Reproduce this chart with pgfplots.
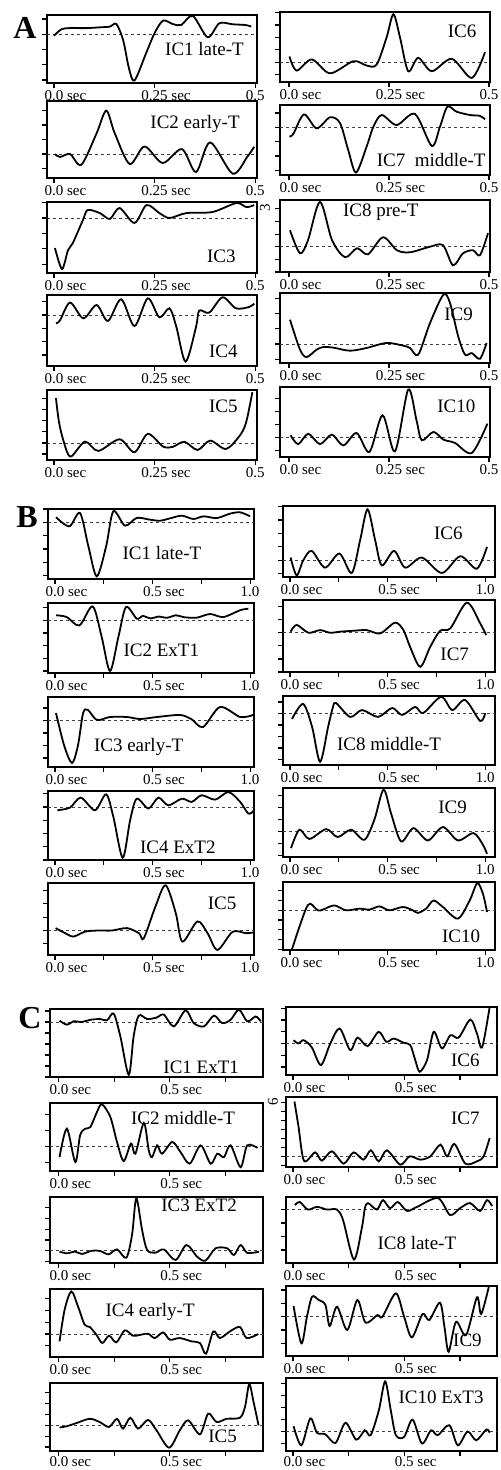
\documentclass[border=0pt]{standalone}
\usepackage{fontspec}
\setmainfont{Liberation Serif}
\usepackage{pgfplots}
\pgfplotsset{compat=1.18}

\pgfplotsset{
  ic/.style={scale only axis, anchor=north west, clip mode=individual,
    axis line style={line width=0.8pt}, tick align=outside,
    xtick pos=bottom, ytick pos=left, major tick length=2.5pt,
    tick style={black, line width=0.6pt},
    ytick distance=1, yticklabels={},
    extra y ticks={0}, extra y tick labels={},
    extra y tick style={grid=major},
    major grid style={dash pattern=on 1.5pt off 1.5pt, line width=0.4pt, black!75},
    xticklabel style={font=\fontsize{7.5}{8}\selectfont, inner sep=1pt}},
  colA/.style={ic, width=105pt, xmin=-0.0173, xmax=0.5045,
    xtick={0,0.25,0.5}, xticklabels={0.0\rlap{~sec},0.25\rlap{~sec},0.5}},
  colAr/.style={ic, width=105pt, xmin=-0.0225, xmax=0.5025,
    xtick={0,0.25,0.5}, xticklabels={0.0\rlap{~sec},0.25\rlap{~sec},0.5}},
  colB/.style={ic, width=103pt, xmin=-0.036, xmax=1.02,
    xtick={0,0.25,0.5,0.75,1}, xticklabels={0.0\rlap{~sec},,0.5\rlap{~sec},,1.0}},
  colBr/.style={ic, width=106pt, xmin=-0.036, xmax=1.05,
    xtick={0,0.25,0.5,0.75,1}, xticklabels={0.0\rlap{~sec},,0.5\rlap{~sec},,1.0}},
  colC/.style={ic, width=106.5pt, xmin=-0.04, xmax=0.92,
    xtick={0,0.25,0.5,0.75}, xticklabels={0.0\rlap{~sec},,0.5\rlap{~sec},}},
  colCr/.style={ic, width=105.5pt, xmin=-0.031, xmax=0.916,
    xtick={0,0.25,0.5,0.75}, xticklabels={0.0\rlap{~sec},,0.5\rlap{~sec},}},
  lastrow/.style={xticklabel style={yshift=0.8pt}},
  curve/.style={black, line width=0.9pt, smooth, mark=none},
}
\tikzset{lab/.style={font=\fontsize{9.5}{10}\selectfont, inner sep=0pt},
  panelletter/.style={font=\fontsize{16}{16}\selectfont\bfseries, inner sep=0pt}}

\begin{document}
\begin{tikzpicture}
\useasboundingbox (0,0) rectangle (250pt,-735pt);

% ---------------- A ----------------
\node[panelletter] at (12.5pt,-14pt) {A};

\begin{axis}[colA, at={(23.5pt,-7.5pt)}, height=34pt, ymin=-3.2, ymax=1.26]
\addplot[curve] coordinates {(0,-0.1) (0.019,0.33) (0.04,0.4) (0.081,0.4) (0.114,0.45) (0.139,0.5) (0.155,0.67) (0.172,-0.4) (0.186,-2.2) (0.2,-3.04) (0.229,-1.24) (0.25,0.07) (0.271,0.89) (0.295,0.67) (0.316,0.6) (0.345,1.2) (0.382,-0.2) (0.411,0.72) (0.444,0.65) (0.477,0.6) (0.49,0.5)};
\node[lab] at (rel axis cs:0.75,0.5) {IC1 late-T};
\end{axis}

\begin{axis}[colA, at={(23.5pt,-50.5pt)}, height=38.5pt, ymin=-1.64, ymax=3.64]
\addplot[curve] coordinates {(0.0025,0) (0.015,-0.2) (0.04,0) (0.068,-0.73) (0.106,1.43) (0.13,2.98) (0.151,1.43) (0.188,-0.68) (0.225,0.52) (0.27,-0.61) (0.318,0.34) (0.353,-1.23) (0.388,0.8) (0.444,-1.34) (0.48,-0.2) (0.4975,0.5)};
\node[lab] at (rel axis cs:0.705,0.70) {IC2 early-T};
\end{axis}

\begin{axis}[colA, at={(23.5pt,-101pt)}, height=35.5pt, ymin=-3.57, ymax=1.04]
\addplot[curve] coordinates {(0.0025,-1.95) (0.02,-3.31) (0.035,-2.08) (0.047,-1.62) (0.072,-0.13) (0.084,0.52) (0.114,0.32) (0.139,-0.06) (0.163,0.65) (0.2,-0.32) (0.23,0.84) (0.262,0.32) (0.287,0) (0.329,0.32) (0.394,0.39) (0.453,0.97) (0.478,0.71) (0.4975,0.84)};
\node[lab] at (rel axis cs:0.83,0.23) {IC3};
\end{axis}

\begin{axis}[colA, at={(23.5pt,-147.5pt)}, height=35.5pt, ymin=-3.83, ymax=1.5]
\addplot[curve] coordinates {(0.005,-0.63) (0.015,-0.4) (0.04,0.93) (0.073,-0.25) (0.106,0.75) (0.134,-0.45) (0.167,1.18) (0.2,-0.83) (0.233,1.25) (0.262,-0.18) (0.287,0.5) (0.304,-0.88) (0.327,-3.5) (0.353,-0.9) (0.361,0.33) (0.386,0.18) (0.419,1.33) (0.452,0.5) (0.485,0.6) (0.4975,0.85)};
\node[lab] at (rel axis cs:0.84,0.21) {IC4};
\end{axis}

\begin{axis}[colA, at={(23.5pt,-195pt)}, height=35pt, ymin=-1.55, ymax=4.8]
\addplot[curve] coordinates {(0.005,4.06) (0.012,2.0) (0.023,0.27) (0.041,-1.24) (0.077,0.12) (0.11,-0.73) (0.163,0.33) (0.2,-0.85) (0.233,0.82) (0.271,-0.33) (0.295,-0.36) (0.324,0.1) (0.357,-0.64) (0.388,0.21) (0.427,-0.55) (0.46,0.58) (0.477,1.8) (0.493,4.6)};
\node[lab] at (rel axis cs:0.84,0.76) {IC5};
\end{axis}

\begin{axis}[colAr, at={(140pt,-6pt)}, height=35pt, ymin=-1.6, ymax=4.05]
\addplot[curve] coordinates {(0.001,0.46) (0.019,-0.68) (0.057,0.22) (0.1025,-0.9) (0.161,0.08) (0.194,-0.27) (0.219,-0.2) (0.244,2.0) (0.261,3.86) (0.2775,2.0) (0.298,-0.73) (0.323,0.35) (0.357,-0.73) (0.407,0.27) (0.457,-1.27) (0.49,0.81)};
\node[lab] at (rel axis cs:0.867,0.73) {IC6};
\end{axis}

\begin{axis}[colAr, at={(140pt,-52.5pt)}, height=35pt, ymin=-3.33, ymax=1.56]
\addplot[curve] coordinates {(0.001,-0.65) (0.011,-0.45) (0.0375,0.9) (0.069,-0.07) (0.1025,0.7) (0.1275,0.3) (0.148,-1.58) (0.1675,-3.16) (0.194,-1.35) (0.211,0.05) (0.232,0.86) (0.269,0.16) (0.315,0.93) (0.357,-1.3) (0.3775,0.05) (0.396,1.44) (0.419,1.09) (0.4525,0.86) (0.4775,0.8) (0.49,0.56)};
\node[lab] at (rel axis cs:0.72,0.21) {IC7\ \ middle-T};
\end{axis}

\node[font=\fontsize{7.5}{8}\selectfont, rotate=90] at (132.5pt,-104pt) {3};

\begin{axis}[colAr, at={(140pt,-100pt)}, height=36pt, ymin=-2.0, ymax=3.7]
\addplot[curve] coordinates {(0.0025,1.3) (0.0275,-0.52) (0.0475,0.52) (0.0775,3.55) (0.1075,0.52) (0.14,-0.83) (0.17,-0.12) (0.1975,-0.6) (0.235,0.75) (0.27,-0.28) (0.3025,-0.44) (0.3525,0) (0.385,0.12) (0.41,-1.47) (0.435,-0.52) (0.46,-0.28) (0.4775,-0.67) (0.4975,1.07)};
\node[lab] at (rel axis cs:0.48,0.83) {IC8 pre-T};
\end{axis}

\begin{axis}[colAr, at={(140pt,-146.5pt)}, height=35pt, ymin=-1.25, ymax=3.36]
\addplot[curve] coordinates {(0.0025,1.6) (0.0275,-0.37) (0.044,-0.86) (0.069,-0.37) (0.086,-0.2) (0.111,-0.24) (0.1525,-0.44) (0.194,-0.26) (0.244,0.07) (0.286,-0.11) (0.3025,-0.26) (0.323,-0.7) (0.3525,1.38) (0.386,3.25) (0.4025,2.7) (0.423,0.5) (0.44,-0.7) (0.457,-0.6) (0.4775,-0.97) (0.494,0.07)};
\node[lab] at (rel axis cs:0.85,0.70) {IC9};
\end{axis}

\begin{axis}[colAr, at={(140pt,-193.5pt)}, height=35pt, ymin=-1.49, ymax=3.9]
\addplot[curve] coordinates {(0.004,0.18) (0.023,-0.5) (0.048,0.3) (0.0775,-0.5) (0.107,0.23) (0.136,-0.6) (0.169,0.36) (0.201,-1.1) (0.234,1.72) (0.265,-1.05) (0.298,3.7) (0.319,1.3) (0.332,-0.2) (0.361,0.44) (0.386,-0.15) (0.415,-0.41) (0.457,-1.18) (0.496,1.08)};
\node[lab] at (rel axis cs:0.84,0.73) {IC10};
\end{axis}

% ---------------- B ----------------
\node[panelletter] at (13.5pt,-258.5pt) {B};

\begin{axis}[colB, at={(24pt,-254.5pt)}, height=35pt, ymin=-4.25, ymax=1.0]
\addplot[curve] coordinates {(0.005,0.38) (0.0735,-0.3) (0.128,0.7) (0.171,-1.8) (0.214,-4.05) (0.262,-1.8) (0.299,0.83) (0.359,-0.25) (0.419,0.33) (0.487,0.2) (0.538,0.12) (0.59,0.3) (0.65,0.5) (0.709,0.25) (0.761,0.45) (0.829,0.32) (0.897,0.65) (0.949,0.75) (1.0,0.45)};
\node[lab] at (rel axis cs:0.553,0.37) {IC1 late-T};
\end{axis}

\begin{axis}[colB, at={(24pt,-301.5pt)}, height=35pt, ymin=-4.16, ymax=1.37]
\addplot[curve] coordinates {(0.005,0.4) (0.06,0.26) (0.125,-0.4) (0.193,1.1) (0.239,-1.3) (0.282,-4.0) (0.325,-1.3) (0.364,1.05) (0.419,0.13) (0.45,0.35) (0.49,0.15) (0.53,0.3) (0.573,0.2) (0.62,0.4) (0.66,0.25) (0.726,0.21) (0.795,0.5) (0.863,0.26) (0.949,0.8) (0.991,0.92)};
\node[lab] at (rel axis cs:0.55,0.33) {IC2 ExT1};
\end{axis}

\begin{axis}[colB, at={(24pt,-348.5pt)}, height=35pt, ymin=-3.72, ymax=1.88]
\addplot[curve] coordinates {(0.005,0.6) (0.046,-1.96) (0.087,-3.4) (0.118,-1.96) (0.144,0.6) (0.169,0.84) (0.215,0.04) (0.282,0.28) (0.369,0.28) (0.436,0.12) (0.523,0.28) (0.641,0.44) (0.7,0.1) (0.759,-0.52) (0.846,1.08) (0.949,0.28) (1.015,0.44)};
\node[lab] at (rel axis cs:0.44,0.29) {IC3 early-T};
\end{axis}

\begin{axis}[colB, at={(24pt,-395.5pt)}, height=34.5pt, ymin=-4.0, ymax=1.2]
\addplot[curve] coordinates {(0.012,-0.25) (0.077,-0.05) (0.132,0.7) (0.205,-0.25) (0.262,0.95) (0.299,-0.75) (0.347,-3.83) (0.385,-1.0) (0.419,0.62) (0.479,-0.12) (0.53,0.7) (0.581,0.12) (0.65,0.62) (0.701,0.38) (0.752,0.88) (0.821,0.55) (0.889,1.12) (0.949,0.38) (0.991,-0.5) (1.017,-0.3)};
\node[lab] at (rel axis cs:0.63,0.19) {IC4 ExT2};
\end{axis}

\begin{axis}[colB, at={(24pt,-441.5pt)}, height=36pt, ymin=-1.83, ymax=3.55]
\addplot[curve] coordinates {(0.003,0.18) (0.052,-0.2) (0.095,-0.45) (0.155,-0.08) (0.223,0) (0.292,0) (0.369,0.18) (0.43,-0.2) (0.455,-0.58) (0.515,1.8) (0.567,3.38) (0.619,1.3) (0.653,-0.83) (0.73,0.68) (0.782,-0.2) (0.833,-1.45) (0.91,-0.1) (0.979,-0.2) (1.014,-0.15)};
\node[lab] at (rel axis cs:0.845,0.72) {IC5};
\end{axis}

\begin{axis}[colBr, at={(141.5pt,-253pt)}, height=35.5pt, ymin=-1.25, ymax=4.05]
\addplot[curve] coordinates {(0.003,0.2) (0.034,-1.13) (0.068,0) (0.111,0.7) (0.179,-0.55) (0.253,0.5) (0.316,-0.95) (0.359,1.5) (0.397,3.8) (0.436,1.5) (0.47,-0.38) (0.533,0.7) (0.59,-0.55) (0.675,0.2) (0.778,-0.95) (0.872,0.3) (0.957,-0.63) (1.009,1.0)};
\node[lab] at (rel axis cs:0.78,0.61) {IC6};
\end{axis}

\begin{axis}[colBr, at={(141.5pt,-300pt)}, height=36pt, ymin=-3.0, ymax=2.5]
\addplot[curve] coordinates {(0.003,0.08) (0.034,0.6) (0.094,0) (0.154,0.2) (0.205,0) (0.256,0.08) (0.325,0.15) (0.393,0.2) (0.462,-0.05) (0.538,0.77) (0.581,0.2) (0.615,-1.08) (0.667,-2.6) (0.718,-1.08) (0.769,0.15) (0.821,0.33) (0.906,2.3) (0.974,0.72) (1.005,-0.18)};
\node[lab] at (rel axis cs:0.81,0.25) {IC7};
\end{axis}

\begin{axis}[colBr, at={(141.5pt,-348pt)}, height=34.5pt, ymin=-4.48, ymax=1.52]
\addplot[curve] coordinates {(0.01,-0.48) (0.067,0.83) (0.113,-1.17) (0.154,-4.2) (0.195,-1.17) (0.22,0.57) (0.236,0.91) (0.308,-0.3) (0.369,0.3) (0.451,-0.3) (0.523,0.48) (0.574,-0.13) (0.641,0.57) (0.682,0.04) (0.774,1.45) (0.831,0.3) (0.897,1.17) (0.974,-0.65) (1.0,0.04)};
\node[lab] at (rel axis cs:0.5,0.30) {IC8 middle-T};
\end{axis}

\begin{axis}[colBr, at={(141.5pt,-394pt)}, height=34.5pt, ymin=-2.1, ymax=3.64]
\addplot[curve] coordinates {(0.005,-1.36) (0.048,0.17) (0.099,-0.6) (0.185,0.22) (0.244,-0.44) (0.313,0.17) (0.381,-0.67) (0.432,1.0) (0.479,3.5) (0.518,1.5) (0.569,-0.8) (0.632,0.3) (0.706,-0.72) (0.783,0.39) (0.86,-0.72) (0.94,-0.11) (0.988,-1.08) (1.009,-1.83)};
\node[lab] at (rel axis cs:0.8,0.72) {IC9};
\end{axis}

\begin{axis}[colBr, at={(141.5pt,-441pt)}, height=34pt, ymin=-4.07, ymax=2.9]
\addplot[curve] coordinates {(0.01,-4.0) (0.048,-1.7) (0.082,0.17) (0.104,0.68) (0.142,0) (0.168,0.07) (0.227,0.5) (0.287,0) (0.356,0.17) (0.407,0.07) (0.458,0.4) (0.509,0) (0.578,0.34) (0.629,0) (0.655,-0.27) (0.697,0.17) (0.735,1.0) (0.783,0.34) (0.86,-0.85) (0.92,1.0) (0.959,2.78) (0.988,1.7) (1.009,-0.17)};
\node[lab] at (rel axis cs:0.84,0.2) {IC10};
\end{axis}

% ---------------- C ----------------
\node[panelletter] at (15pt,-509pt) {C};

\begin{axis}[colC, at={(25pt,-504.5pt)}, height=34pt, ymin=-5.0, ymax=1.18]
\addplot[curve] coordinates {(0.003,0.12) (0.036,-0.24) (0.066,0.06) (0.104,0) (0.142,0.2) (0.187,0.27) (0.217,0.15) (0.247,0.76) (0.277,-1.3) (0.315,-4.8) (0.337,-1.3) (0.36,0.58) (0.398,0.27) (0.44,0.4) (0.473,0.67) (0.518,-0.4) (0.571,1.06) (0.608,-0.1) (0.654,-0.4) (0.699,0.58) (0.736,-0.1) (0.774,0.2) (0.812,1.12) (0.849,0.06) (0.887,0.5) (0.91,0.06)};
\node[lab] at (rel axis cs:0.71,0.15) {IC1 ExT1};
\end{axis}

\begin{axis}[colC, at={(25pt,-551.5pt)}, height=34pt, ymin=-1.54, ymax=2.7]
\addplot[curve] coordinates {(0.003,-0.67) (0.036,1.1) (0.074,-0.98) (0.096,0.7) (0.119,1.1) (0.142,1.2) (0.172,2.15) (0.194,2.62) (0.232,1.83) (0.262,0.27) (0.292,-0.92) (0.325,0.17) (0.345,-0.46) (0.383,1.46) (0.405,-0.25) (0.42,-0.67) (0.443,0.06) (0.465,-0.46) (0.511,0.27) (0.548,-0.35) (0.59,-1.08) (0.639,0.06) (0.684,-1.08) (0.714,-0.46) (0.744,-0.67) (0.774,0.06) (0.819,-1.3) (0.849,0.06) (0.895,-0.1)};
\node[lab] at (rel axis cs:0.625,0.78) {IC2 middle-T};
\end{axis}

\begin{axis}[colC, at={(25pt,-598.5pt)}, height=33pt, ymin=-1.14, ymax=4.97]
\addplot[curve] coordinates {(0.003,-0.09) (0.036,-0.24) (0.074,-0.09) (0.104,-0.3) (0.149,0) (0.187,-0.03) (0.224,-0.34) (0.262,0.12) (0.304,-0.65) (0.33,1.5) (0.349,4.86) (0.375,1.92) (0.398,0.06) (0.435,-0.18) (0.473,0.12) (0.526,-0.86) (0.575,0.53) (0.623,-0.55) (0.661,-0.92) (0.706,0.22) (0.759,0.22) (0.789,-0.4) (0.819,0.53) (0.849,-0.2) (0.902,-0.09)};
\node[lab] at (rel axis cs:0.70,0.88) {IC3 ExT2};
\end{axis}

\begin{axis}[colC, at={(25pt,-644.5pt)}, height=34pt, ymin=-1.94, ymax=3.8]
\addplot[curve] coordinates {(0.003,-0.62) (0.026,2.06) (0.056,3.6) (0.086,2.34) (0.116,0.79) (0.139,0.6) (0.169,-0.06) (0.196,-0.76) (0.226,-0.14) (0.259,-0.7) (0.297,0.31) (0.334,-0.14) (0.364,-0.08) (0.402,0.03) (0.432,-0.34) (0.47,0.14) (0.5,-0.48) (0.545,-0.34) (0.598,-0.62) (0.636,-0.76) (0.663,-1.66) (0.696,0.22) (0.726,-0.34) (0.771,0.22) (0.816,0.6) (0.846,-0.34) (0.899,0.0)};
\node[lab] at (rel axis cs:0.47,0.66) {IC4 early-T};
\end{axis}

\begin{axis}[colC, lastrow, at={(25pt,-691.5pt)}, height=34pt, ymin=-2.37, ymax=3.9]
\addplot[curve] coordinates {(0.003,-0.2) (0.033,-0.1) (0.078,0.2) (0.139,0.6) (0.184,0.3) (0.226,-0.15) (0.262,0.6) (0.289,-0.3) (0.322,0.7) (0.357,-0.3) (0.402,0.5) (0.44,-0.46) (0.497,-2.06) (0.545,-0.46) (0.583,0.46) (0.636,-0.83) (0.673,1.08) (0.711,0.3) (0.756,0.6) (0.816,0.7) (0.839,1.7) (0.858,3.8) (0.877,2.2) (0.9,0.0)};
\node[lab] at (rel axis cs:0.81,0.22) {IC5};
\end{axis}

\begin{axis}[colCr, at={(143pt,-503.5pt)}, height=34pt, ymin=-2.68, ymax=3.1]
\addplot[curve] coordinates {(0.003,0.28) (0.025,0) (0.048,0.28) (0.085,-0.34) (0.126,-1.83) (0.168,0) (0.21,1.27) (0.257,-0.56) (0.29,0.5) (0.335,-0.22) (0.385,0.99) (0.419,0.14) (0.452,0.42) (0.497,0.06) (0.527,-0.14) (0.549,-1.41) (0.569,-2.4) (0.602,-1.41) (0.632,0.99) (0.669,-0.42) (0.707,0.7) (0.744,0.5) (0.796,2.03) (0.826,0.85) (0.849,-0.34) (0.883,3.1)};
\node[lab] at (rel axis cs:0.85,0.22) {IC6};
\end{axis}

\node[font=\fontsize{7.5}{8}\selectfont, rotate=90] at (136.5pt,-551pt) {6};

\begin{axis}[colCr, at={(143pt,-548.5pt)}, height=35pt, ymin=-1.19, ymax=6.6]
\addplot[curve] coordinates {(0.007,6.1) (0.025,3.33) (0.05,-0.5) (0.1,0.44) (0.13,-0.48) (0.175,0.56) (0.228,-0.81) (0.272,0.44) (0.317,-0.37) (0.35,0.67) (0.385,-0.56) (0.422,0.67) (0.482,-0.93) (0.524,0) (0.572,-0.37) (0.617,0) (0.662,1.3) (0.692,0) (0.725,1.37) (0.774,-0.81) (0.826,-0.56) (0.856,0) (0.883,2.04)};
\node[lab] at (rel axis cs:0.85,0.70) {IC7};
\end{axis}

\begin{axis}[colCr, at={(143pt,-598.5pt)}, height=33pt, ymin=-3.96, ymax=0.93]
\addplot[curve] coordinates {(0.009,0.33) (0.031,0.56) (0.067,0) (0.108,0.2) (0.153,0) (0.198,0) (0.225,-0.78) (0.274,-3.7) (0.31,-1.3) (0.323,0.1) (0.337,0.48) (0.377,0) (0.404,0.7) (0.436,0.1) (0.471,0.56) (0.512,-0.1) (0.557,0.2) (0.651,0.85) (0.705,-0.4) (0.75,0.1) (0.795,0.48) (0.84,-0.1) (0.871,0.7) (0.894,0.26)};
\node[lab] at (rel axis cs:0.62,0.30) {IC8 late-T};
\end{axis}

\begin{axis}[colCr, at={(143pt,-643pt)}, height=35pt, ymin=-2.95, ymax=2.3]
\addplot[curve] coordinates {(0.003,0.8) (0.038,-2.0) (0.063,0) (0.086,1.5) (0.116,1.25) (0.146,0.88) (0.165,-0.7) (0.198,0.75) (0.244,-1.0) (0.289,1.25) (0.326,-0.45) (0.379,0.12) (0.402,0) (0.462,1.75) (0.499,0) (0.534,-1.55) (0.582,0.2) (0.612,-0.25) (0.66,1.05) (0.68,-0.75) (0.699,-2.63) (0.732,-0.38) (0.777,-1.38) (0.826,1.45) (0.845,0.2) (0.88,2.3)};
\node[lab] at (rel axis cs:0.86,0.23) {IC9};
\end{axis}

\begin{axis}[colCr, lastrow, at={(143pt,-689pt)}, height=36.5pt, ymin=-1.63, ymax=4.48]
\addplot[curve] coordinates {(0.003,0.45) (0.038,-1.15) (0.078,1.1) (0.108,-0.1) (0.146,-0.23) (0.191,-0.96) (0.236,0.73) (0.284,-0.68) (0.323,0.1) (0.349,-0.3) (0.386,1.8) (0.414,4.2) (0.439,1.8) (0.462,-0.3) (0.499,-0.45) (0.537,1.0) (0.579,-1.0) (0.62,0.1) (0.65,-0.3) (0.702,0.53) (0.74,-1.15) (0.784,0) (0.823,-0.73) (0.868,0.17) (0.883,-0.1)};
\node[lab] at (rel axis cs:0.735,0.73) {IC10 ExT3};
\end{axis}

\end{tikzpicture}
\end{document}
